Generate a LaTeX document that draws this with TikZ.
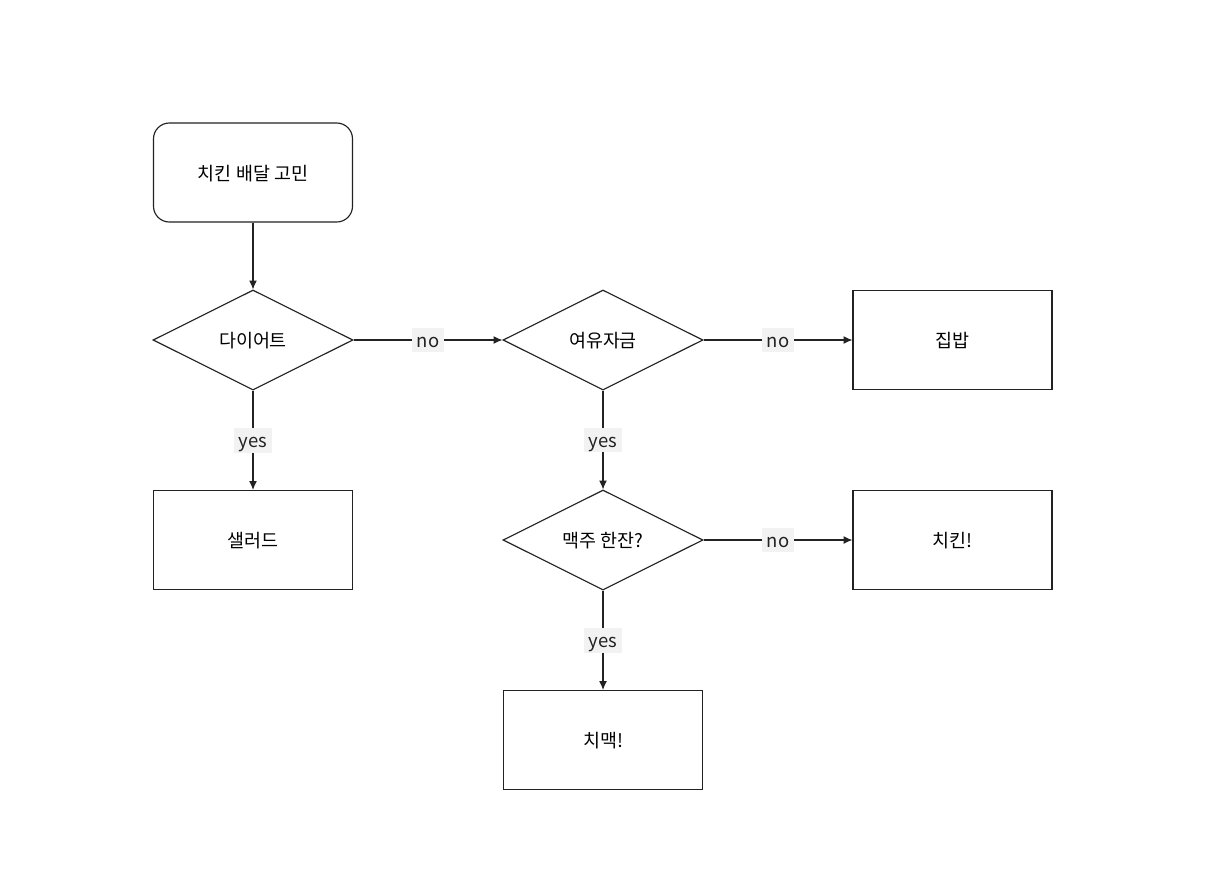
\documentclass[tikz,border=0pt]{standalone}
\usepackage{fontspec}
\setmainfont{Noto Sans CJK KR}
\definecolor{InkGray}{HTML}{222222}
\definecolor{LabelBg}{HTML}{F2F2F2}
\usetikzlibrary{shapes.geometric, arrows.meta, positioning}
\tikzset{
  % Box styles
  startbox/.style={rectangle, rounded corners=9pt, draw=InkGray, line width=0.65pt, minimum width=3.98cm, minimum height=1.98cm, inner sep=0pt, text height=1.1em, text depth=0.2em, font=\fontsize{10.5}{13}\selectfont, align=center},
  endbox/.style={rectangle, draw=InkGray, line width=0.65pt, minimum width=3.98cm, minimum height=1.98cm, inner sep=0pt, text height=1.1em, text depth=0.2em, font=\fontsize{10.5}{13}\selectfont, align=center},
  choicebox/.style={diamond, draw=InkGray, line width=0.65pt, minimum width=4cm, minimum height=2cm, aspect=2, inner sep=0pt, text height=1.1em, text depth=0.2em, font=\fontsize{10.5}{13}\selectfont, align=center},
  % Arrow styles
  flowarrow/.style={-{Latex[length=5pt, width=4.5pt]}, line width=0.65pt, InkGray},
  % Label style
  edgelabel/.style={fill=LabelBg, text=InkGray, inner xsep=2.5pt, inner ysep=2.5pt, text height=0.85em, text depth=0.05em, font=\fontsize{10.5}{13}\selectfont}
}
\begin{document}
\begin{tikzpicture}
  \useasboundingbox (0,0) rectangle (24.14,-17.6);

  \node[startbox] (start) at (5.06,-3.45) {치킨 배달 고민};

  \node[choicebox] (diet) at (5.06,-6.8) {다이어트};
  \node[choicebox] (money) at (12.06,-6.8) {여유자금};
  \node[choicebox] (beer) at (12.06,-10.8) {맥주 한잔?};

  \node[endbox] (home) at (19.05,-6.8) {집밥};
  \node[endbox] (salad) at (5.06,-10.8) {샐러드};
  \node[endbox] (chicken) at (19.05,-10.8) {치킨!};
  \node[endbox] (chimaek) at (12.06,-14.8) {치맥!};

  \draw[flowarrow] (start.south) -- (diet.north);
  \draw[flowarrow] (diet.east) -- node[edgelabel] {no} (money.west);
  \draw[flowarrow] (money.east) -- node[edgelabel] {no} (home.west);
  \draw[flowarrow] (diet.south) -- node[edgelabel] {yes} (salad.north);
  \draw[flowarrow] (money.south) -- node[edgelabel] {yes} (beer.north);
  \draw[flowarrow] (beer.east) -- node[edgelabel] {no} (chicken.west);
  \draw[flowarrow] (beer.south) -- node[edgelabel] {yes} (chimaek.north);
\end{tikzpicture}
\end{document}
